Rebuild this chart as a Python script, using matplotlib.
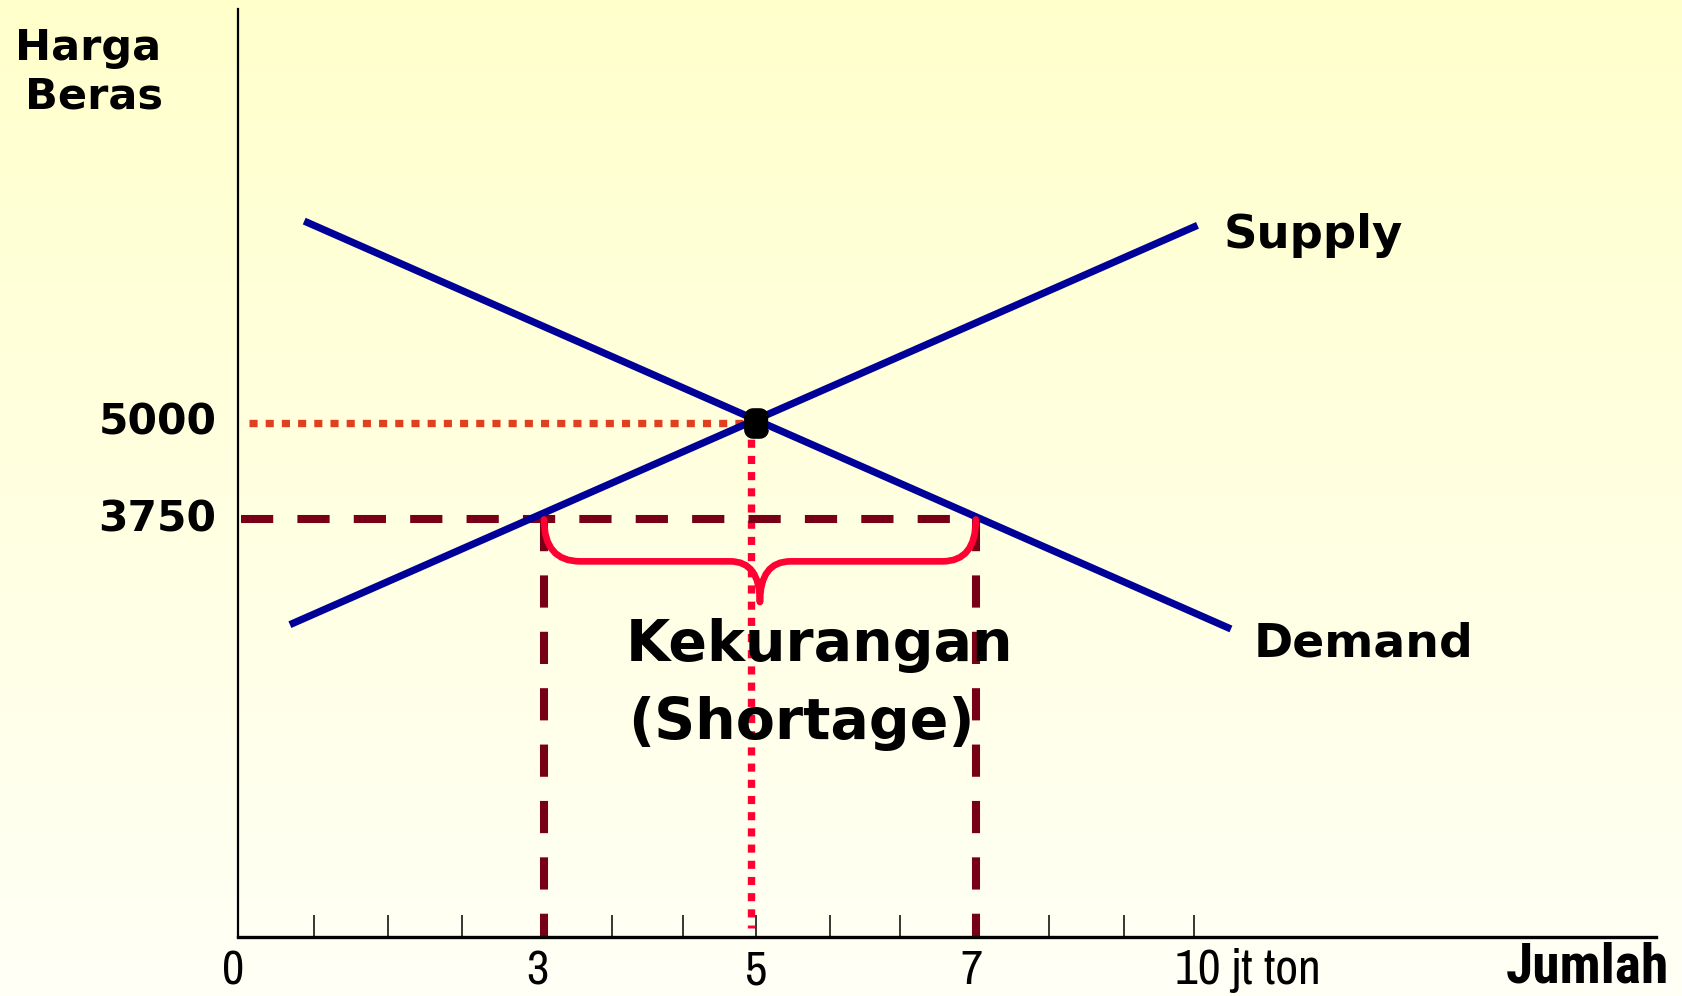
import numpy as np
import matplotlib
matplotlib.use("Agg")
import matplotlib.pyplot as plt
from matplotlib.path import Path
from matplotlib.patches import PathPatch
from matplotlib import font_manager
from matplotlib.transforms import blended_transform_factory

# Data (quantity in jt ton, price of rice)
supply_q = [0.54, 10.04]
supply_p = [2389, 7556]
demand_q = [0.69, 10.39]
demand_p = [7611, 2333]
eq_q, eq_p = 5.42, 5000
ceiling_p = 3750
qs_ceiling, qd_ceiling = 3.2, 7.72
tick_positions = [0.79, 1.57, 2.34, 3.2, 3.91, 4.65, 5.42, 6.19, 6.93, 7.72, 8.49, 9.27, 10.0]
x_labels = ["0", "3", "5", "7"]
x_label_pos = [-0.05, 3.13, 5.42, 7.67]
y_labels = ["5000", "3750"]
y_label_pos = [eq_p, ceiling_p]

# pick a condensed family, preferably one with a bold face
fonts = font_manager.fontManager.ttflist
candidates = ["Liberation Sans Narrow", "Archivo Narrow", "Roboto Condensed", "PT Sans Narrow",
              "Open Sans Condensed", "IBM Plex Sans Condensed", "Oswald"]
narrow, narrow_bold = "DejaVu Sans", "DejaVu Sans"
names = {f.name for f in fonts}
for name in candidates:
    if name in names:
        narrow = name
        break
for name in candidates:
    if any(f.name == name and (f.weight if isinstance(f.weight, int) else 400) >= 600 for f in fonts):
        narrow_bold = name
        break

fig = plt.figure(figsize=(16.83, 9.96), dpi=100)

# background gradient
bg = fig.add_axes([0, 0, 1, 1], zorder=-10)
grad = np.linspace(0, 1, 256).reshape(-1, 1)
top = np.array([255, 255, 204]) / 255
bottom = np.array([255, 255, 246]) / 255
img = top[None, None, :] * (1 - grad[:, :, None]) + bottom[None, None, :] * grad[:, :, None]
bg.imshow(img, aspect="auto", extent=[0, 1, 0, 1])
bg.axis("off")

ax = fig.add_axes([0.1416, 0.0592, 0.8424, 0.9322])
ax.set_facecolor("none")
ax.set_xlim(0, 14.84)
ax.set_ylim(-1653, 10361)

for s in ["top", "right"]:
    ax.spines[s].set_visible(False)
ax.spines["left"].set_linewidth(1.6)
ax.spines["bottom"].set_linewidth(2.4)
ax.set_yticks([])
ax.set_xticks(tick_positions)
ax.set_xticklabels([])
ax.tick_params(axis="x", direction="in", length=16, width=1.1, color="black")

# supply & demand
ax.plot(supply_q, supply_p, color="#000099", lw=5.2, solid_capstyle="butt", zorder=3)
ax.plot(demand_q, demand_p, color="#000099", lw=5.2, solid_capstyle="butt", zorder=3)

# equilibrium guides
ax.plot([0.11, eq_q - 0.05], [eq_p, eq_p], color="#E0401F", lw=5.3,
        dashes=(1.1, 1.1), dash_capstyle="butt", zorder=2)
ax.plot([eq_q - 0.05, eq_q - 0.05], [eq_p, -1540], color="#FF0033", lw=5.3,
        dashes=(1.1, 1.1), dash_capstyle="butt", zorder=2)

# price ceiling guides
dash_kw = dict(color="#780016", lw=5.8, dashes=(4.0, 3.0), dash_capstyle="butt", zorder=2)
ax.plot([0.03, qd_ceiling], [ceiling_p, ceiling_p], **dash_kw)
ax.plot([qs_ceiling, qs_ceiling], [ceiling_p, -1653], **dash_kw)
ax.plot([qd_ceiling, qd_ceiling], [ceiling_p, -1653], **dash_kw)

# rounded-square equilibrium dot
t = np.linspace(0, np.pi / 2, 8)
r, w, h = 0.28, 0.4, 0.5
corners = [(w - r, h - r, 0), (-w + r, h - r, 1), (-w + r, -h + r, 2), (w - r, -h + r, 3)]
dot = []
for cx, cy, k in corners:
    a = t + k * np.pi / 2
    dot += list(zip(cx + r * np.cos(a), cy + r * np.sin(a)))
ax.plot([eq_q], [eq_p], marker=dot, ms=21, color="black", zorder=5)

# brace under the shortage
mid = (qs_ceiling + qd_ceiling) / 2
depth, tip = 542, 1069
yb = ceiling_p - depth
verts = [
    (qs_ceiling, ceiling_p), (qs_ceiling, yb), (qs_ceiling + 0.38, yb),
    (mid - 0.31, yb),
    (mid, yb), (mid, ceiling_p - tip),
    (mid, yb), (mid + 0.32, yb),
    (qd_ceiling - 0.35, yb),
    (qd_ceiling, yb), (qd_ceiling, ceiling_p),
]
codes = [Path.MOVETO, Path.CURVE3, Path.CURVE3, Path.LINETO,
         Path.CURVE3, Path.CURVE3, Path.CURVE3, Path.CURVE3,
         Path.LINETO, Path.CURVE3, Path.CURVE3]
ax.add_patch(PathPatch(Path(verts, codes), fill=False, edgecolor="#FF0033",
                       lw=4.8, capstyle="round", joinstyle="round", zorder=4))

# labels
ax.text(10.31, 7420, "Supply", fontsize=33.5, fontweight="bold", va="center", ha="left")
ax.text(10.63, 2140, "Demand", fontsize=34, fontweight="bold", va="center", ha="left")
ax.text(4.06, 2120, "Kekurangan", fontsize=41, fontweight="bold", va="center", ha="left", zorder=6)
ax.text(4.08, 1110, "(Shortage)", fontsize=41, fontweight="bold", va="center", ha="left", zorder=6)

for lab, p in zip(y_labels, y_label_pos):
    ax.text(-0.23, p, lab, fontsize=30.5, fontweight="bold", va="center", ha="right", clip_on=False)

trans = blended_transform_factory(ax.transData, fig.transFigure)
for lab, q in zip(x_labels, x_label_pos):
    ax.text(q, 0.012, lab, transform=trans, fontsize=35, family=narrow,
            va="baseline", ha="center", clip_on=False)
ax.text(9.8, 0.012, "10 jt ton", transform=trans, fontsize=36, family=narrow,
        va="baseline", ha="left", clip_on=False)
fig.text(0.9917, 0.003, "Jumlah", fontsize=40, family=narrow_bold, fontweight="bold",
         va="bottom", ha="right")

fig.text(0.0089, 0.952, "Harga", fontsize=31, fontweight="bold", va="center", ha="left")
fig.text(0.0149, 0.903, "Beras", fontsize=31, fontweight="bold", va="center", ha="left")

fig.savefig("out.png", dpi=100)
